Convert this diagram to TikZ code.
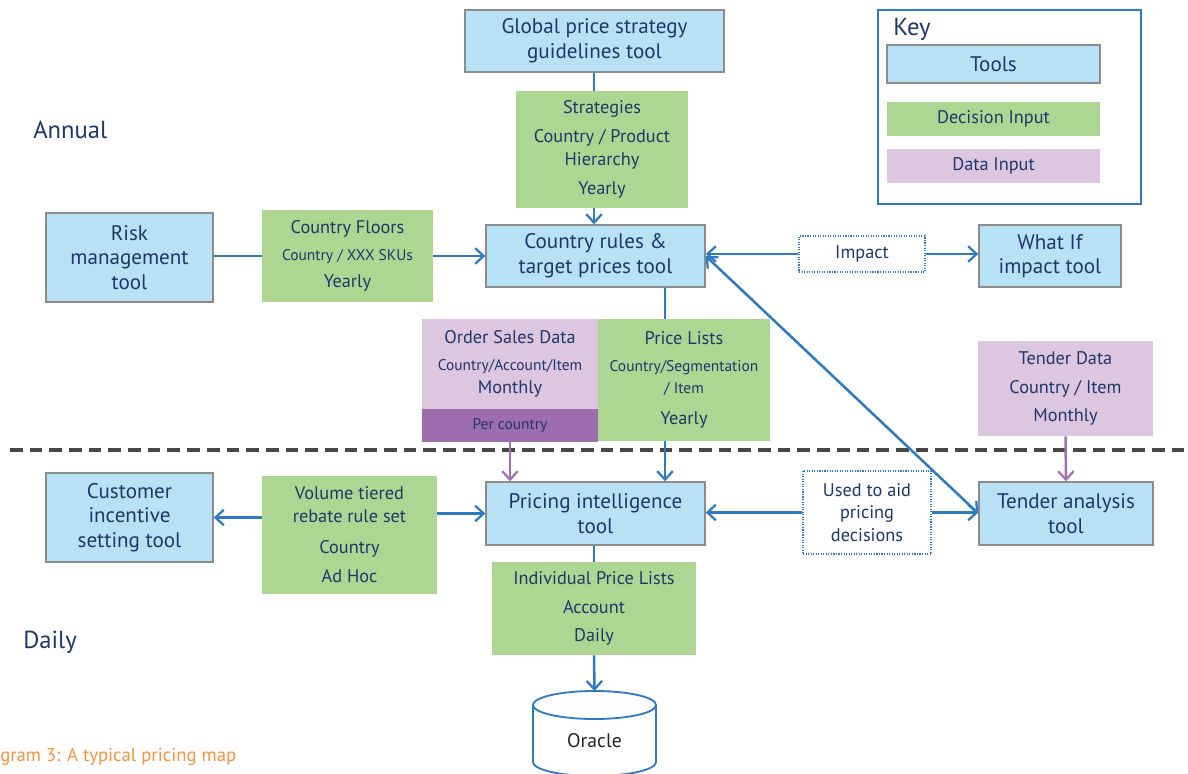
\documentclass[tikz,border=0pt]{standalone}
\usepackage{fontspec}
\setmainfont{PT Sans}
\usetikzlibrary{positioning,calc,arrows.meta}

\definecolor{toolblue}{HTML}{B9E1F5}
\definecolor{toolgray}{HTML}{8C8C8C}
\definecolor{decgreen}{HTML}{AED693}
\definecolor{datapink}{HTML}{DDC6E0}
\definecolor{datadark}{HTML}{9E6DAD}
\definecolor{navy}{HTML}{1F3768}
\definecolor{linkblue}{HTML}{2E7BC4}
\definecolor{linkpurple}{HTML}{A070B8}
\definecolor{captionorange}{HTML}{F7943A}

\newcommand{\pxu}{0.025cm}
\newcommand{\tooltxt}{\fontsize{15}{17.5}\selectfont}
\newcommand{\midtxt}{\fontsize{13}{16}\selectfont}
\newcommand{\smalltxt}{\fontsize{11}{13}\selectfont}
\newcommand{\bigtxt}{\fontsize{17.5}{20}\selectfont}

\begin{document}
\begin{tikzpicture}[
    x=0.025cm, y=-0.025cm, % one unit = one pixel of the layout
    sz/.style n args={2}{minimum width=#1*\pxu, minimum height=#2*\pxu, inner sep=0pt, align=center, text=navy}, % box size
    tool/.style={fill=toolblue, draw=toolgray, line width=1pt, font=\tooltxt}, % tools
    decision/.style={fill=decgreen, font=\midtxt}, % decision input
    datain/.style={fill=datapink, font=\midtxt}, % data input
    note/.style={draw=linkblue, densely dotted, line width=0.8pt, fill=white, font=\midtxt}, % edge labels
    link/.style={line width=1.8pt, draw=linkblue}, % plain line
    arrow/.style={link, -{Straight Barb[length=6pt,width=11pt,line width=1.6pt]}}, % blue arrow
    twoway/.style={link, {Straight Barb[length=6pt,width=11pt,line width=1.6pt]}-{Straight Barb[length=6pt,width=11pt,line width=1.6pt]}},
    dataarrow/.style={line width=1.8pt, draw=linkpurple, -{Straight Barb[length=6pt,width=11pt,line width=1.6pt]}} % purple arrow
    ]
    \useasboundingbox (0,0) rectangle (1188,774);

    % Annual / daily border
    \draw[line width=2.2pt, draw=black!72, dash pattern=on 9pt off 5pt] (10,450) -- (1188,450);

    % Row labels
    \node[anchor=west, font=\bigtxt, text=navy, inner sep=0pt] (annual) at (33,130) {Annual};
    \node[anchor=west, font=\bigtxt, text=navy, inner sep=0pt] (daily) at (23,642) {Daily};
    \node[anchor=west, font=\fontsize{13.3}{15}\selectfont, text=captionorange, inner sep=0pt] (caption) at (0,757) {gram 3: A typical pricing map};

    % Tools
    \node[tool, sz={259}{62}] (global) at (594.5,41) {Global price strategy\\guidelines tool};
    \node[tool, sz={167}{89}] (risk) at (129.5,257.5) {Risk\\management\\tool};
    \node[tool, sz={219}{62}] (rules) at (595.5,256) {Country rules \&\\target prices tool};
    \node[tool, sz={142}{62}] (whatif) at (1050,256) {What If\\impact tool};
    \node[tool, sz={167}{89}] (cust) at (129.5,517.5) {Customer\\incentive\\setting tool};
    \node[tool, sz={219}{63}] (pricing) at (595.5,513.5) {Pricing intelligence\\tool};
    \node[tool, sz={174}{63}] (tender) at (1066,513.5) {Tender analysis\\tool};

    % Decision inputs
    \node[decision, sz={172}{117}] (strategies) at (602,149.5)
        {Strategies\\[5pt]Country / Product\\Hierarchy\\[5pt]Yearly};
    \node[decision, sz={171}{92}] (floors) at (347.5,256)
        {Country Floors\\[3pt]{\smalltxt Country / XXX SKUs}\\[3pt]Yearly};
    \node[decision, sz={172}{122}] (pricelists) at (684,380)
        {Price Lists\\[3pt]{\smalltxt Country/Segmentation}\\{\smalltxt / Item}\\[6pt]Yearly};
    \node[decision, sz={175}{118}] (volume) at (349.5,535)
        {Volume tiered\\rebate rule set\\[6pt]Country\\[5pt]Ad Hoc};
    \node[decision, sz={204}{93}] (indiv) at (594,608.5)
        {Individual Price Lists\\[5pt]Account\\[4pt]Daily};

    % Data inputs
    \node[datain, sz={176}{90}] (orders) at (510,364)
        {Order Sales Data\\[3pt]{\smalltxt Country/Account/Item}\\[1pt]Monthly};
    \node[datain, sz={176}{33}, fill=datadark, font=\smalltxt] (percountry) at (510,425.5) {Per country};
    \node[datain, sz={175}{95}] (tenderdata) at (1065.5,388.5)
        {Tender Data\\[5pt]Country / Item\\[4pt]Monthly};

    % Edge labels
    \node[note, sz={126}{36}] (impact) at (862,254) {Impact};
    \node[note, sz={128}{83}] (usedaid) at (867,512.5) {Used to aid\\pricing\\decisions};

    % Oracle store
    \draw[line width=1.3pt, draw=linkblue, fill=white]
        (533,705) -- (533,762) arc[start angle=180, end angle=360, x radius=1.5375cm, y radius=0.35cm] -- (656,705);
    \draw[line width=1.3pt, draw=linkblue, fill=white] (594.5,705) ellipse [x radius=1.5375cm, y radius=0.35cm];
    \coordinate (oracletop) at (594.5,691);
    \node[font=\fontsize{14}{16}\selectfont, text=black!85] (oracle) at (594.5,741) {Oracle};

    % Key
    \draw[line width=1pt, draw=linkblue] (878,10) rectangle (1141,204);
    \node[anchor=west, font=\bigtxt, text=navy, inner sep=0pt] (key) at (893,29) {Key};
    \node[tool, sz={213}{38}] (keytools) at (993.5,64) {Tools};
    \node[decision, sz={213}{34}] (keydecision) at (993.5,119) {Decision Input};
    \node[datain, sz={213}{34}] (keydata) at (993.5,166) {Data Input};

    % Annual links
    \draw[link] (global.south -| 594,0) -- (strategies.north -| 594,0);
    \draw[arrow] (strategies.south -| 594,0) -- (rules.north -| 594,0);
    \draw[link] (risk.east |- floors.west) -- (floors.west);
    \draw[arrow] (floors.east) -- (rules.west);
    \draw[arrow] (impact.west) -- (rules.east |- impact.west);
    \draw[arrow] (impact.east) -- (whatif.west |- impact.east);
    \draw[link] (rules.south -| 665,0) -- (pricelists.north -| 665,0);

    % Inputs crossing into daily
    \draw[arrow] (pricelists.south -| 665,0) -- (pricing.north -| 665,0);
    \draw[dataarrow] (percountry.south) -- (percountry.south |- pricing.north);
    \draw[dataarrow] (tenderdata.south) -- (tender.north);
    \draw[twoway] (rules.east) -- (tender.west);

    % Daily links
    \draw[arrow] (volume.west |- cust.east) -- (cust.east);
    \draw[arrow] (volume.east |- pricing.west) -- (pricing.west);
    \draw[arrow] (usedaid.west) -- (pricing.east |- usedaid.west);
    \draw[arrow] (usedaid.east) -- (tender.west |- usedaid.east);
    \draw[link] (pricing.south -| 594,0) -- (indiv.north -| 594,0);
    \draw[arrow] (indiv.south -| 594,0) -- (oracletop);

\end{tikzpicture}
\end{document}
